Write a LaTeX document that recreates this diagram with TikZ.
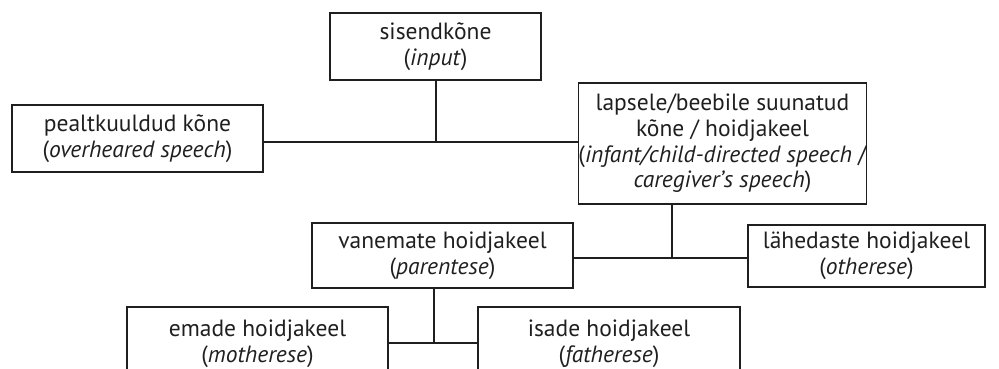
\documentclass[tikz,border=0pt]{standalone}
\usepackage{fontspec}
\setmainfont{PT Sans}
\begin{document}
\begin{tikzpicture}[x=1pt,y=-1pt,
  box/.style={draw=black!88, line width=1.5pt, rectangle, align=center, inner sep=0pt,
    font=\fontsize{23.5}{25.8}\selectfont, text=black!88},
  conn/.style={draw=black!88, line width=1.5pt}]
\useasboundingbox (0,0) rectangle (999,369);
\clip (0,0) rectangle (999,369);

% boxes
\node[box, minimum width=211pt, minimum height=67pt] (input) at (435.5,46.5)
  {sisendkõne\\(\textit{input})};
\node[box, minimum width=251pt, minimum height=67pt] (over) at (137.5,138.5)
  {pealtkuuldud kõne\\(\textit{overheared speech})};
\node[box, minimum width=281pt, minimum height=121pt] (ids) at (722.5,143.5)
  {lapsele/beebile suunatud\\kõne / hoidjakeel\\(\textit{infant/child-directed speech} /\\\textit{caregiver's speech})};
\node[box, minimum width=261pt, minimum height=65pt] (parent) at (442.5,255.5)
  {vanemate hoidjakeel\\(\textit{parentese})};
\node[box, minimum width=237pt, minimum height=62pt] (other) at (866.5,256)
  {lähedaste hoidjakeel\\(\textit{otherese})};
\node[box, minimum width=261pt, minimum height=74pt] (mother) at (257.5,344)
  {emade hoidjakeel\\(\textit{motherese})};
\node[box, minimum width=262pt, minimum height=74pt] (father) at (609,344)
  {isade hoidjakeel\\(\textit{fatherese})};

% junctions
\coordinate (j1) at (436,142);
\coordinate (j2) at (672,258);
\coordinate (j3) at (434,343);

% connectors
\draw[conn] (input.south -| j1) -- (j1);
\draw[conn] (over.east |- j1) -- (ids.west |- j1);
\draw[conn] (ids.south -| j2) -- (j2);
\draw[conn] (parent.east |- j2) -- (other.west |- j2);
\draw[conn] (parent.south -| j3) -- (j3);
\draw[conn] (mother.east |- j3) -- (father.west |- j3);
\end{tikzpicture}
\end{document}
